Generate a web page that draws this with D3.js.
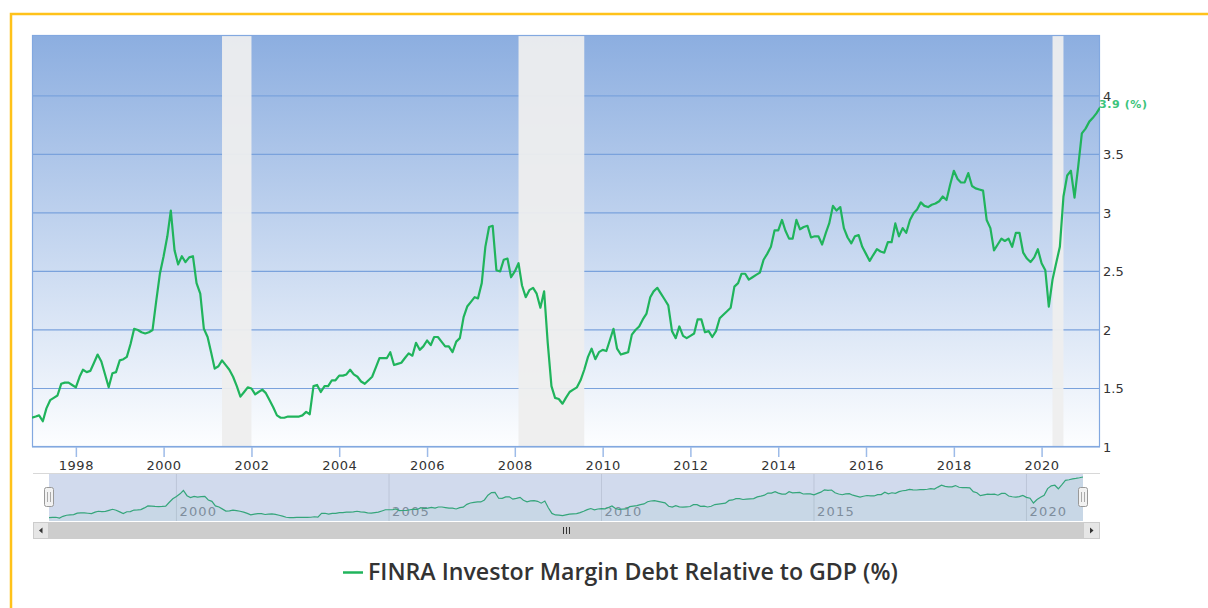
<!DOCTYPE html>
<html>
<head>
<meta charset="utf-8">
<script src="https://cdn.jsdelivr.net/npm/d3@7"></script>
<style>
  body { margin: 0; background: #fff; }
  svg { display: block; }
</style>
</head>
<body>
<div id="chart"></div>
<script>
// monthly values, first month = startMonth
var startMonth = "1997-01";
var marginDebt = [
  1.25, 1.26, 1.27, 1.22, 1.33, 1.40, 1.42, 1.44, 1.54, 1.55, 1.55, 1.53, // 1997
  1.51, 1.60, 1.66, 1.64, 1.65, 1.72, 1.79, 1.73, 1.62, 1.51, 1.63, 1.64, // 1998
  1.74, 1.75, 1.77, 1.88, 2.01, 2.00, 1.98, 1.97, 1.98, 2.00, 2.25, 2.48, // 1999
  2.63, 2.80, 3.02, 2.68, 2.56, 2.63, 2.58, 2.62, 2.63, 2.40, 2.31, 2.01, // 2000
  1.94, 1.80, 1.67, 1.69, 1.74, 1.70, 1.66, 1.60, 1.52, 1.43, 1.47, 1.51, // 2001
  1.50, 1.45, 1.47, 1.49, 1.46, 1.40, 1.34, 1.27, 1.25, 1.25, 1.26, 1.26, // 2002
  1.26, 1.26, 1.27, 1.30, 1.28, 1.52, 1.53, 1.47, 1.52, 1.52, 1.57, 1.57, // 2003
  1.61, 1.61, 1.62, 1.66, 1.62, 1.60, 1.56, 1.54, 1.57, 1.60, 1.68, 1.76, // 2004
  1.76, 1.76, 1.81, 1.70, 1.71, 1.72, 1.76, 1.80, 1.78, 1.89, 1.83, 1.86, // 2005
  1.91, 1.87, 1.94, 1.94, 1.90, 1.86, 1.86, 1.81, 1.90, 1.93, 2.11, 2.20, // 2006
  2.24, 2.28, 2.27, 2.40, 2.71, 2.88, 2.89, 2.51, 2.50, 2.60, 2.61, 2.45, // 2007
  2.50, 2.57, 2.38, 2.28, 2.34, 2.36, 2.31, 2.19, 2.33, 1.89, 1.52, 1.42, // 2008
  1.41, 1.37, 1.42, 1.47, 1.49, 1.51, 1.57, 1.66, 1.77, 1.84, 1.75, 1.81, // 2009
  1.83, 1.82, 1.91, 2.01, 1.84, 1.79, 1.80, 1.81, 1.96, 2.00, 2.03, 2.09, // 2010
  2.14, 2.28, 2.33, 2.36, 2.31, 2.26, 2.21, 1.99, 1.93, 2.03, 1.95, 1.93, // 2011
  1.95, 1.97, 2.09, 2.09, 1.98, 1.99, 1.94, 1.99, 2.10, 2.13, 2.16, 2.19, // 2012
  2.37, 2.40, 2.48, 2.48, 2.43, 2.45, 2.47, 2.49, 2.60, 2.65, 2.71, 2.85, // 2013
  2.85, 2.94, 2.85, 2.78, 2.78, 2.94, 2.86, 2.88, 2.89, 2.79, 2.80, 2.80, // 2014
  2.73, 2.83, 2.91, 3.06, 3.02, 3.05, 2.87, 2.79, 2.74, 2.80, 2.81, 2.71, // 2015
  2.65, 2.59, 2.64, 2.69, 2.67, 2.66, 2.75, 2.75, 2.91, 2.80, 2.87, 2.83, // 2016
  2.94, 3.00, 3.03, 3.09, 3.06, 3.05, 3.07, 3.08, 3.10, 3.14, 3.11, 3.24, // 2017
  3.36, 3.29, 3.26, 3.26, 3.34, 3.23, 3.21, 3.20, 3.19, 2.94, 2.87, 2.68, // 2018
  2.73, 2.78, 2.76, 2.78, 2.71, 2.83, 2.83, 2.66, 2.61, 2.58, 2.62, 2.69, // 2019
  2.57, 2.51, 2.20, 2.43, 2.57, 2.71, 3.14, 3.32, 3.36, 3.13, 3.40, 3.68, // 2020
  3.72, 3.78, 3.81, 3.85, 3.90                                            // 2021
];

// zone grise (récessions)
var recessionStart = ["2001-05", "2008-02", "2020-04"];
var recessionEnd   = ["2002-01", "2009-08", "2020-07"];

var yTicks = [1, 1.5, 2, 2.5, 3, 3.5, 4];
var xTickYears = [1998, 2000, 2002, 2004, 2006, 2008, 2010, 2012, 2014, 2016, 2018, 2020];
var navTickYears = [2000, 2005, 2010, 2015, 2020];
var seriesName = "FINRA Investor Margin Debt Relative to GDP (%)";
var lastLabel = "3.9 (%)";

var width = 1208, height = 608;
var green = "#20b45c";
var font = "'DejaVu Sans', sans-serif";

var parseMonth = d3.timeParse("%Y-%m");
var first = parseMonth(startMonth);
var months = d3.timeMonth.range(first, d3.timeMonth.offset(first, marginDebt.length));
var data = months.map(function (d, i) { return { date: d, value: marginDebt[i] }; });

var svg = d3.select("#chart").append("svg")
  .attr("width", width)
  .attr("height", height);

// cadre orange
svg.append("path")
  .attr("d", "M11,608 L11,14 L1208,14")
  .attr("fill", "none")
  .attr("stroke", "#ffc21a")
  .attr("stroke-width", 2.5);

// main plot
var plotL = 32, plotT = 35, plotR = 1100, plotB = 447;
var x = d3.scaleTime().domain([months[0], months[months.length - 1]]).range([plotL, plotR]);
var y = d3.scaleLinear().domain([1, 4.52]).range([plotB, plotT]);

var defs = svg.append("defs");
var grad = defs.append("linearGradient")
  .attr("id", "bg").attr("x1", 0).attr("y1", 0).attr("x2", 0).attr("y2", 1);
grad.append("stop").attr("offset", "0%").attr("stop-color", "#8caee0");
grad.append("stop").attr("offset", "100%").attr("stop-color", "#fdfeff");

svg.append("rect")
  .attr("x", plotL).attr("y", plotT)
  .attr("width", plotR - plotL).attr("height", plotB - plotT)
  .attr("fill", "url(#bg)");

// grille horizontale
svg.append("g")
  .selectAll("line")
  .data(yTicks)
  .enter()
  .append("line")
  .attr("x1", plotL).attr("x2", plotR)
  .attr("y1", function (d) { return y(d); })
  .attr("y2", function (d) { return y(d); })
  .attr("stroke", "#7aa2dc")
  .attr("stroke-width", 1.2);

// bandes de récession
svg.append("g")
  .selectAll("rect")
  .data(recessionStart)
  .enter()
  .append("rect")
  .attr("x", function (d) { return x(parseMonth(d)); })
  .attr("width", function (d, i) { return x(parseMonth(recessionEnd[i])) - x(parseMonth(d)); })
  .attr("y", plotT)
  .attr("height", plotB - plotT)
  .attr("fill", "#eeeeee")
  .attr("opacity", 0.94);

// bordure
svg.append("rect")
  .attr("x", plotL + 0.5).attr("y", plotT + 0.5)
  .attr("width", plotR - plotL - 1).attr("height", plotB - plotT - 1)
  .attr("fill", "none")
  .attr("stroke", "#82a8e0")
  .attr("stroke-width", 1.2);

// axe x
var xAxis = d3.axisBottom(x)
  .tickValues(xTickYears.map(function (yr) { return new Date(yr, 0, 1); }))
  .tickFormat(d3.timeFormat("%Y"))
  .tickSize(10)
  .tickSizeOuter(0);
var gx = svg.append("g")
  .attr("transform", "translate(0," + plotB + ")")
  .call(xAxis);
gx.select(".domain").remove();
gx.selectAll(".tick line").attr("stroke", "#9dbbe8").attr("stroke-width", 1.5);
gx.selectAll(".tick text")
  .attr("y", 14)
  .attr("dy", "0.71em")
  .style("font-family", font)
  .style("font-size", "13px")
  .style("letter-spacing", "0.5px")
  .attr("fill", "#333");

// axe y (droite)
var yAxis = d3.axisRight(y)
  .tickValues(yTicks)
  .tickFormat(d3.format("~g"))
  .tickSize(0);
var gy = svg.append("g")
  .attr("transform", "translate(" + plotR + ",0)")
  .call(yAxis);
gy.select(".domain").remove();
gy.selectAll(".tick text")
  .attr("x", 3)
  .style("font-family", font)
  .style("font-size", "13px")
  .attr("fill", "#333");

// série
var line = d3.line()
  .x(function (d) { return x(d.date); })
  .y(function (d) { return y(d.value); });

svg.append("defs").append("clipPath").attr("id", "clip")
  .append("rect")
  .attr("x", plotL).attr("y", plotT)
  .attr("width", plotR - plotL).attr("height", plotB - plotT);

svg.append("path")
  .datum(data)
  .attr("clip-path", "url(#clip)")
  .attr("d", line)
  .attr("fill", "none")
  .attr("stroke", green)
  .attr("stroke-width", 2.2)
  .attr("stroke-linejoin", "round");

var last = data[data.length - 1];
svg.append("text")
  .attr("x", x(last.date) - 1)
  .attr("y", y(last.value) - 3)
  .attr("dy", "0.35em")
  .style("font-family", font)
  .style("font-size", "11px")
  .style("font-weight", "bold")
  .style("letter-spacing", "0.6px")
  .attr("fill", "#3cc47c")
  .text(lastLabel);

// navigator
var navL = 33, navR = 1100, navT = 473, navB = 521;
var selL = 49, selR = 1083;
var nx = d3.scaleTime().domain(x.domain()).range([selL, selR]);
var ny = d3.scaleLinear().domain(d3.extent(marginDebt)).range([518, 477]);

svg.append("rect")
  .attr("x", navL).attr("y", navT)
  .attr("width", navR - navL).attr("height", navB - navT)
  .attr("fill", "#ffffff");

var navTicks = navTickYears.map(function (yr) { return new Date(yr, 0, 1); });
svg.append("g")
  .selectAll("line")
  .data(navTicks)
  .enter()
  .append("line")
  .attr("x1", function (d) { return nx(d); })
  .attr("x2", function (d) { return nx(d); })
  .attr("y1", navT).attr("y2", navB)
  .attr("stroke", "#e2e2e2");

svg.append("g")
  .selectAll("text")
  .data(navTicks)
  .enter()
  .append("text")
  .attr("x", function (d) { return nx(d) + 3; })
  .attr("y", 516)
  .style("font-family", font)
  .style("font-size", "13px")
  .style("letter-spacing", "1.2px")
  .attr("fill", "#8f8f8f")
  .text(d3.timeFormat("%Y"));

var navArea = d3.area()
  .x(function (d) { return nx(d.date); })
  .y0(navB)
  .y1(function (d) { return ny(d.value); });
svg.append("path")
  .datum(data)
  .attr("d", navArea)
  .attr("fill", green)
  .attr("fill-opacity", 0.06);
svg.append("path")
  .datum(data)
  .attr("d", line.x(function (d) { return nx(d.date); }).y(function (d) { return ny(d.value); }))
  .attr("fill", "none")
  .attr("stroke", green)
  .attr("stroke-width", 1.2);

// masque de sélection
svg.append("rect")
  .attr("x", selL).attr("y", navT)
  .attr("width", selR - selL).attr("height", navB - navT)
  .attr("fill", "rgba(102,133,194,0.3)");
svg.append("line")
  .attr("x1", navL).attr("x2", navR)
  .attr("y1", navT + 0.5).attr("y2", navT + 0.5)
  .attr("stroke", "#d8d8d8");

// poignées
[selL, selR].forEach(function (hx) {
  var h = svg.append("g").attr("transform", "translate(" + hx + ",497)");
  h.append("rect")
    .attr("x", -4.5).attr("y", -9.5)
    .attr("width", 9).attr("height", 19)
    .attr("rx", 2)
    .attr("fill", "#f2f2f2")
    .attr("stroke", "#999")
    .attr("stroke-width", 1);
  [-1.5, 1.5].forEach(function (dx) {
    h.append("line")
      .attr("x1", dx).attr("x2", dx)
      .attr("y1", -5).attr("y2", 5)
      .attr("stroke", "#aaa");
  });
});

// barre de défilement
var sbT = 522, sbH = 17;
svg.append("rect")
  .attr("x", navL).attr("y", sbT)
  .attr("width", navR - navL).attr("height", sbH)
  .attr("fill", "#f2f2f2");
svg.append("rect")
  .attr("x", selL).attr("y", sbT)
  .attr("width", selR - selL).attr("height", sbH)
  .attr("fill", "#cdcdcd");
[[navL, selL, -1], [selR, navR, 1]].forEach(function (b) {
  svg.append("rect")
    .attr("x", b[0] + 0.5).attr("y", sbT + 0.5)
    .attr("width", b[1] - b[0] - 1).attr("height", sbH - 1)
    .attr("fill", "#e6e6e6")
    .attr("stroke", "#cccccc");
  var cx = (b[0] + b[1]) / 2, cy = sbT + sbH / 2;
  svg.append("path")
    .attr("d", "M" + (cx + b[2] * 2) + "," + cy + " L" + (cx - b[2] * 1.5) + "," + (cy - 3) + " L" + (cx - b[2] * 1.5) + "," + (cy + 3) + "Z")
    .attr("fill", "#333");
});
var gripX = (selL + selR) / 2;
[-3, 0, 3].forEach(function (dx) {
  svg.append("line")
    .attr("x1", gripX + dx + 0.5).attr("x2", gripX + dx + 0.5)
    .attr("y1", sbT + 5).attr("y2", sbT + 12)
    .attr("stroke", "#333");
});

// légende
svg.append("line")
  .attr("x1", 343).attr("x2", 363)
  .attr("y1", 572.5).attr("y2", 572.5)
  .attr("stroke", green)
  .attr("stroke-width", 2.5);
var legendText = svg.append("text")
  .attr("x", 368)
  .attr("y", 580)
  .style("font-family", "'Open Sans', sans-serif")
  .style("font-weight", "600")
  .style("font-size", "18px")
  .attr("fill", "#333")
  .text(seriesName);
// ajuste la taille pour couvrir ~530px comme l'original
var w = legendText.node().getComputedTextLength();
legendText.style("font-size", (18 * 530 / w).toFixed(2) + "px");
</script>
</body>
</html>
